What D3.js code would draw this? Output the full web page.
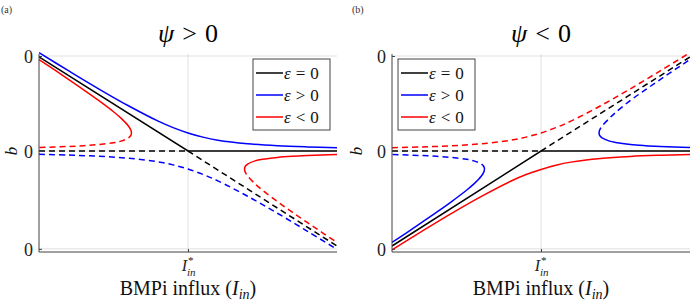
<!DOCTYPE html>
<html>
  <head>
    <meta charset="utf-8">
    <title>Bifurcation diagrams</title>
    <script src="https://d3js.org/d3.v7.min.js"></script>
    <style>
      svg text { font-family: "Liberation Serif", "DejaVu Serif", "Times New Roman", serif; }
    </style>
  </head>
  <body style="margin:0;background:#fff">
    <svg id="chart" width="691" height="303"></svg>
    <script>
// Data: x in units of I*_in (0..2), b on the tick scale (0 = middle tick)
var xTicks = [1];
var yTicks = [-1.03, 0, 1];
var yTickLabels = ["0", "0", "0"];

// panel (a), psi > 0
var aBlackSolid = [[0, 0.99], [1, 0], [2, 0]];
var aBlackDashL = [[0, 0], [1, 0]];
var aBlackDashR = [[1, 0], [2, -1.0]];
var aBlueSolid = [[0, 1.035], [0.2, 0.843], [0.4, 0.655], [0.6, 0.476], [0.8, 0.314], [0.9, 0.246], [1, 0.19],
                  [1.1, 0.146], [1.2, 0.114], [1.4, 0.076], [1.6, 0.055], [1.8, 0.043], [2, 0.035]];
var aBlueDash = [[0, -0.035], [0.2, -0.043], [0.4, -0.055], [0.6, -0.076], [0.8, -0.114], [0.9, -0.146], [1, -0.19],
                 [1.1, -0.246], [1.2, -0.314], [1.4, -0.476], [1.6, -0.655], [1.8, -0.843], [2, -1.035]];
var aRedSolidL = [[0, 0.963], [0.1, 0.858], [0.2, 0.752], [0.3, 0.644], [0.4, 0.532], [0.5, 0.413], [0.55, 0.346],
                  [0.6, 0.263], [0.615, 0.225], [0.619, 0.208], [0.6205, 0.19]];
var aRedDashL = [[0.6205, 0.19], [0.619, 0.173], [0.615, 0.16], [0.6, 0.137], [0.55, 0.104], [0.5, 0.087],
                 [0.4, 0.068], [0.3, 0.056], [0.2, 0.048], [0.1, 0.042], [0, 0.037]];
var aRedSolidR = [[1.3795, -0.19], [1.381, -0.173], [1.385, -0.16], [1.4, -0.137], [1.45, -0.104], [1.5, -0.087],
                  [1.6, -0.068], [1.7, -0.056], [1.8, -0.048], [1.9, -0.042], [2, -0.037]];
var aRedDashR = [[1.3795, -0.19], [1.381, -0.208], [1.385, -0.225], [1.4, -0.263], [1.45, -0.346], [1.5, -0.413],
                 [1.6, -0.532], [1.7, -0.644], [1.8, -0.752], [1.9, -0.858], [2, -0.963]];

// panel (b), psi < 0
var bBlackSolid = [[0, -1.0], [1, 0], [2, 0]];
var bBlackDashL = [[0, 0], [1, 0]];
var bBlackDashR = [[1, 0], [2, 0.99]];
var bRedSolid = [[0, -1.04], [0.2, -0.846], [0.4, -0.657], [0.6, -0.478], [0.8, -0.316], [0.9, -0.248], [1, -0.195],
                 [1.1, -0.15], [1.2, -0.117], [1.4, -0.078], [1.6, -0.057], [1.8, -0.045], [2, -0.037]];
var bRedDash = [[0, 0.035], [0.2, 0.043], [0.4, 0.055], [0.6, 0.076], [0.8, 0.114], [0.9, 0.146], [1, 0.19],
                [1.1, 0.246], [1.2, 0.314], [1.4, 0.476], [1.6, 0.655], [1.8, 0.843], [2, 1.035]];
var bBlueSolidL = [[0, -0.963], [0.1, -0.858], [0.2, -0.752], [0.3, -0.644], [0.4, -0.532], [0.5, -0.413], [0.55, -0.346],
                   [0.6, -0.263], [0.615, -0.225], [0.619, -0.208], [0.6205, -0.19]];
var bBlueDashL = [[0.6205, -0.19], [0.619, -0.173], [0.615, -0.16], [0.6, -0.137], [0.55, -0.104], [0.5, -0.087],
                  [0.4, -0.068], [0.3, -0.056], [0.2, -0.048], [0.1, -0.042], [0, -0.037]];
var bBlueSolidR = [[1.39, 0.19], [1.391, 0.173], [1.395, 0.16], [1.41, 0.137], [1.46, 0.104], [1.5, 0.09],
                   [1.6, 0.068], [1.7, 0.056], [1.8, 0.048], [1.9, 0.042], [2, 0.037]];
var bBlueDashR = [[1.39, 0.19], [1.391, 0.208], [1.395, 0.225], [1.41, 0.263], [1.46, 0.346], [1.5, 0.405],
                  [1.6, 0.532], [1.7, 0.644], [1.8, 0.752], [1.9, 0.858], [2, 0.963]];

var legendLabels = [["\u03b5", "=", "0"], ["\u03b5", ">", "0"], ["\u03b5", "<", "0"]];
var legendColors = ["#000000", "#0000ff", "#ff0000"];

var svg = d3.select("#chart");

var panels = [
  {tag: "(a)", tagX: 1, title: ">", x0: 39, x1: 337, legendX: 253, yLabelX: 17,
   series: [
     {d: aBlackDashL, c: "#000", dash: true, lin: true}, {d: aBlackDashR, c: "#000", dash: true, lin: true},
     {d: aBlueDash, c: "#0000ff", dash: true},
     {d: aRedDashL, c: "#ff0000", dash: true}, {d: aRedDashR, c: "#ff0000", dash: true},
     {d: aBlackSolid, c: "#000", lin: true}, {d: aBlueSolid, c: "#0000ff"},
     {d: aRedSolidL, c: "#ff0000"}, {d: aRedSolidR, c: "#ff0000"}]},
  {tag: "(b)", tagX: 352, title: "<", x0: 392, x1: 690, legendX: 398, yLabelX: 362,
   series: [
     {d: bBlackDashL, c: "#000", dash: true, lin: true}, {d: bBlackDashR, c: "#000", dash: true, lin: true},
     {d: bRedDash, c: "#ff0000", dash: true},
     {d: bBlueDashL, c: "#0000ff", dash: true}, {d: bBlueDashR, c: "#0000ff", dash: true},
     {d: bBlackSolid, c: "#000", lin: true}, {d: bRedSolid, c: "#ff0000"},
     {d: bBlueSolidL, c: "#0000ff"}, {d: bBlueSolidR, c: "#0000ff"}]}
];

var y = d3.scaleLinear().domain([-1.063, 1.021]).range([252, 54]);

panels.forEach(function(p, i) {
  var x = d3.scaleLinear().domain([0, 2]).range([p.x0, p.x1]);
  var g = svg.append("g");

  // panel tag
  g.append("text").attr("x", p.tagX).attr("y", 13)
    .style("font-size", "10px").attr("fill", "#333").text(p.tag);

  // title
  var t = g.append("text").attr("x", (p.x0 + p.x1) / 2).attr("y", 42)
    .attr("text-anchor", "middle").style("font-size", "26px");
  t.append("tspan").style("font-style", "italic").text("\u03c8");
  t.append("tspan").attr("dx", 8).text(p.title);
  t.append("tspan").attr("dx", 8).text("0");

  // grid
  g.selectAll(".hgrid").data(yTicks).enter().append("line")
    .attr("x1", p.x0).attr("x2", p.x1).attr("y1", y).attr("y2", y)
    .attr("stroke", "#e0e0e0").attr("stroke-width", 1);
  g.selectAll(".vgrid").data(xTicks).enter().append("line")
    .attr("x1", x).attr("x2", x).attr("y1", y.range()[1]).attr("y2", y.range()[0])
    .attr("stroke", "#e0e0e0").attr("stroke-width", 1);

  // curves
  var clipId = "clip" + i;
  svg.append("clipPath").attr("id", clipId).append("rect")
    .attr("x", p.x0).attr("y", 40).attr("width", p.x1 - p.x0 + 1).attr("height", 214);
  var smooth = d3.line().x(function(d) { return x(d[0]); }).y(function(d) { return y(d[1]); })
    .curve(d3.curveCatmullRom.alpha(0.5));
  var straight = d3.line().x(function(d) { return x(d[0]); }).y(function(d) { return y(d[1]); });
  g.append("g").attr("clip-path", "url(#" + clipId + ")")
    .selectAll("path").data(p.series).enter().append("path")
      .attr("d", function(s) { return s.lin ? straight(s.d) : smooth(s.d); })
      .attr("fill", "none")
      .attr("stroke", function(s) { return s.c; })
      .attr("stroke-width", 1.5)
      .attr("stroke-dasharray", function(s) { return s.dash ? "6,4" : null; });

  // axes
  var axisY = d3.axisLeft(y).tickValues(yTicks).tickSize(-3)
    .tickFormat(function(d, k) { return yTickLabels[k]; });
  var ay = g.append("g").attr("transform", "translate(" + p.x0 + ",0)").call(axisY);
  var axisX = d3.axisBottom(x).tickValues(xTicks).tickSize(-3).tickFormat("");
  var ax = g.append("g").attr("transform", "translate(0," + y.range()[0] + ")").call(axisX);
  [ay, ax].forEach(function(a) {
    a.attr("font-family", null);
    a.select(".domain").attr("stroke", "#404040");
    a.selectAll(".tick line").attr("stroke", "#404040");
  });
  ay.selectAll(".tick text").attr("x", -6).attr("dy", "0.36em")
    .style("font-size", "18px").attr("fill", "#222");
  ay.select(".domain").attr("d", "M0," + y.range()[0] + "V" + y.range()[1]);
  ax.select(".domain").attr("d", "M" + p.x0 + ",0H" + p.x1);

  // x tick label I*_in
  g.append("text").attr("x", x(1) - 1).attr("y", 271).attr("text-anchor", "end")
    .style("font-size", "16px").style("font-style", "italic").attr("fill", "#222").text("I");
  g.append("text").attr("x", x(1)).attr("y", 264)
    .style("font-size", "11px").attr("fill", "#222").text("*");
  g.append("text").attr("x", x(1) - 1).attr("y", 276)
    .style("font-size", "11px").style("font-style", "italic").attr("fill", "#222").text("in");

  // x axis label
  var xl = g.append("text").attr("x", x(1)).attr("y", 295).attr("text-anchor", "middle")
    .style("font-size", "20px").attr("fill", "#111");
  xl.append("tspan").text("BMPi influx (");
  xl.append("tspan").style("font-style", "italic").text("I");
  xl.append("tspan").attr("dy", 4).style("font-style", "italic").style("font-size", "14px").text("in");
  xl.append("tspan").attr("dy", -4).text(")");

  // y axis label
  g.append("text").attr("transform", "translate(" + p.yLabelX + ",151) rotate(-90)")
    .attr("text-anchor", "middle").style("font-size", "17px")
    .style("font-style", "italic").attr("fill", "#111").text("b");

  // legend
  var lg = g.append("g").attr("transform", "translate(" + p.legendX + ",59)");
  lg.append("rect").attr("width", 77).attr("height", 71)
    .attr("fill", "#fff").attr("stroke", "#444").attr("stroke-width", 1);
  legendLabels.forEach(function(lab, k) {
    var ry = 14 + k * 22;
    lg.append("line").attr("x1", 3).attr("x2", 30).attr("y1", ry).attr("y2", ry)
      .attr("stroke", legendColors[k]).attr("stroke-width", 1.5);
    var lt = lg.append("text").attr("x", 31).attr("y", ry + 6)
      .style("font-size", "17px").attr("fill", "#111");
    lt.append("tspan").style("font-style", "italic").text(lab[0]);
    lt.append("tspan").attr("dx", 5).text(lab[1]);
    lt.append("tspan").attr("dx", 5).text(lab[2]);
  });
});
    </script>
  </body>
</html>
